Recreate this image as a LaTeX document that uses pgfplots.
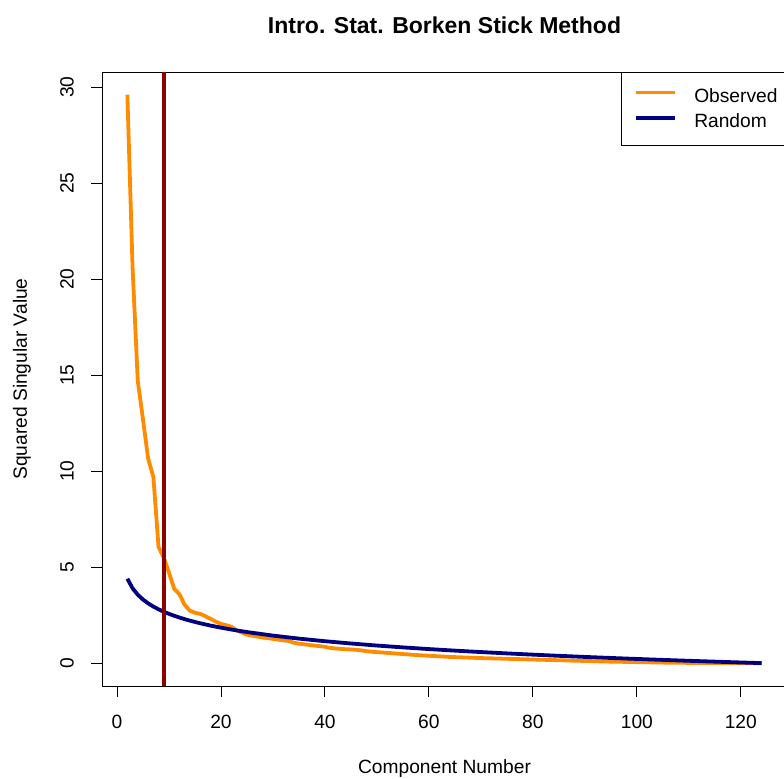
\documentclass[border=0pt]{standalone}
\usepackage{pgfplots}
\pgfplotsset{compat=1.18}
\usepackage{fontspec}
\setmainfont{Liberation Sans}

\definecolor{obs}{HTML}{FF8C00}
\definecolor{rnd}{HTML}{000080}
\definecolor{cut}{HTML}{8B0000}

\newcommand\basefont{\fontsize{19.2bp}{23bp}\selectfont}

% squared singular values, components 2..124
\pgfplotstableread{
x y
2 29.6
3 20.6
4 14.7
5 12.7
6 10.65
7 9.7
8 6.05
9 5.5
10 4.72
11 3.88
12 3.6
13 3.05
14 2.74
15 2.63
16 2.57
17 2.45
18 2.31
19 2.17
20 2.05
21 1.98
22 1.9
23 1.72
24 1.6
25 1.49
26 1.44
27 1.39
28 1.34
29 1.31
30 1.27
31 1.23
32 1.19
33 1.16
34 1.07
35 1.02
36 0.99
37 0.95
38 0.92
39 0.89
40 0.86
41 0.8
42 0.77
43 0.75
44 0.73
45 0.72
46 0.7
47 0.67
48 0.63
49 0.6
50 0.58
52 0.54
54 0.5
56 0.46
58 0.42
60 0.39
62 0.36
64 0.33
66 0.31
68 0.29
70 0.27
74 0.24
78 0.21
82 0.18
86 0.15
90 0.12
94 0.09
98 0.07
102 0.05
106 0.03
110 0.02
114 0.01
118 0.01
124 0.0
}\observed

% broken-stick expectation for the same components
\pgfplotstableread{
x y
2 4.4015
3 3.9015
4 3.5682
5 3.3182
6 3.1182
7 2.9515
8 2.8087
9 2.6837
10 2.5726
11 2.4726
12 2.3816
13 2.2983
14 2.2214
15 2.1500
16 2.0833
17 2.0208
18 1.9620
19 1.9064
20 1.8538
21 1.8038
22 1.7562
23 1.7107
24 1.6673
25 1.6256
30 1.4398
35 1.2832
40 1.1479
45 1.0287
50 0.9223
55 0.8261
60 0.7383
65 0.6576
70 0.5829
75 0.5135
80 0.4485
85 0.3875
90 0.3300
95 0.2757
100 0.2241
105 0.1751
110 0.1284
115 0.0837
120 0.0410
122 0.0244
124 0.0081
}\randomstick

\begin{document}
\begin{tikzpicture}
\useasboundingbox (0,0) rectangle (784bp,779bp);
\begin{axis}[
  at={(102bp,93bp)}, anchor=south west,
  scale only axis, width=685bp, height=614bp,
  xmin=-2.88, xmax=128.88, ymin=-1.184, ymax=30.784,
  xtick={0,20,...,120}, ytick={0,5,...,30},
  xtick pos=left, ytick pos=left,
  tick align=outside, major tick length=11bp,
  tick style={black, line width=0.9bp},
  axis line style={black, line width=0.9bp},
  /pgf/number format/assume math mode=true,
  every tick label/.append style={font=\basefont},
  xticklabel style={anchor=north, inner sep=0pt},
  yticklabel style={rotate=90, anchor=south, inner sep=0pt},
  xticklabel shift=18bp, yticklabel shift=17bp,
  title={Intro. Stat. Borken Stick Method},
  title style={font=\bfseries\fontsize{23bp}{27bp}\selectfont, at={(axis description cs:0.5,1.0533)}, anchor=base, inner sep=0pt},
  xlabel={Component Number},
  xlabel style={font=\basefont, at={(axis description cs:0.5,-0.1433)}, anchor=base, inner sep=0pt},
  ylabel={Squared Singular Value},
  ylabel style={font=\basefont, at={(axis description cs:-0.1095,0.5)}, rotate=0, anchor=base, inner sep=0pt},
  legend cell align=left,
  legend image code/.code={\draw[#1] (0bp,0.36em) -- (39bp,0.36em);},
  legend style={at={(axis description cs:0.7577,1)}, anchor=north west,
    draw=black, line width=0.9bp, font=\basefont,
    nodes={inner sep=0pt}, inner xsep=13bp, inner ysep=16bp,
    row sep=10bp, column sep=17bp},
]
\addplot[obs, line width=3.8bp] table {\observed};
\addlegendentry{Observed}
\addplot[rnd, line width=3.8bp] table {\randomstick};
\addlegendentry{Random}
\addplot[cut, line width=3.8bp, forget plot] coordinates {(9,-1.184) (9,30.784)};
\end{axis}
\end{tikzpicture}
\end{document}
